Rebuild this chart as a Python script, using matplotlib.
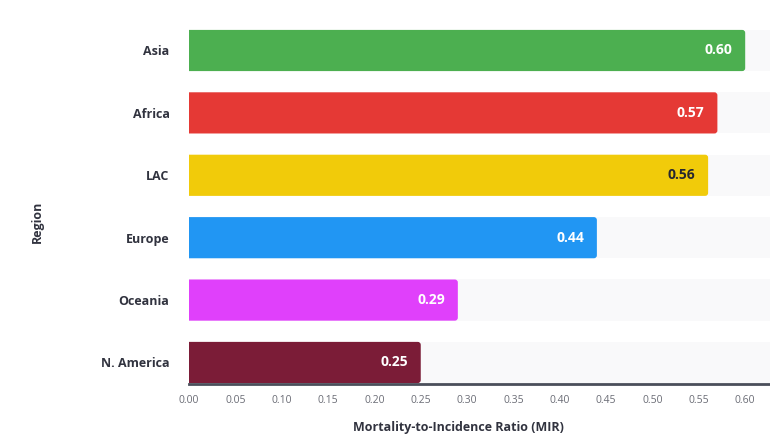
import matplotlib.pyplot as plt
from matplotlib.patches import FancyBboxPatch
import numpy as np

regions = ['Asia', 'Africa', 'LAC', 'Europe', 'Oceania', 'N. America']
mir = [0.60, 0.57, 0.56, 0.44, 0.29, 0.25]
colors = ['#4caf50', '#e53935', '#f1cb0a', '#2196f3', '#e040fb', '#7b1c37']
text_colors = ['white', 'white', '#262730', 'white', 'white', 'white']
ticks = np.arange(0, 0.601, 0.05)

plt.rcParams['font.family'] = ['Open Sans', 'DejaVu Sans']

fig = plt.figure(figsize=(7.7, 4.41), dpi=100)
ax = fig.add_axes([189 / 770, 57 / 441, 1 - 189 / 770, 364.7 / 441])

y = np.arange(len(regions))
xmax = 581 / 927
px_x = 927.0   # pixeles por unidad en x
px_y = 62.4    # pixeles por unidad en y

# fondo gris de cada barra
ax.barh(y, [xmax] * len(regions), height=0.66, color='#f9f9fa', zorder=1)
bars = ax.barh(y, mir, height=0.66, color=colors, zorder=2)

# esquinas redondeadas solo a la derecha (la izquierda queda recortada)
r = 3 / px_x
for b in bars:
    b.set_visible(False)
    p = FancyBboxPatch((b.get_x() - r, b.get_y()), b.get_width() + r, b.get_height(),
                       boxstyle=f'round,pad=0,rounding_size={r}',
                       mutation_aspect=px_x / px_y,
                       facecolor=b.get_facecolor(), edgecolor='none', zorder=2)
    ax.add_patch(p)

for b, v, tc in zip(bars, mir, text_colors):
    ax.text(v - 0.014, b.get_y() + b.get_height() / 2, f'{v:.2f}',
            ha='right', va='center', color=tc, fontsize=10,
            fontweight='bold', zorder=3)

ax.set_yticks(y)
ax.set_yticklabels(regions, fontsize=9, fontweight='bold', color='#31333f')
ax.set_xticks(ticks)
ax.set_xticklabels([f'{t:.2f}' for t in ticks], fontsize=7.5, color='#6b6d76')
ax.set_xlim(0, xmax)
ax.set_ylim(5.345, -0.5)
ax.tick_params(axis='both', length=0)
ax.tick_params(axis='y', pad=14)
ax.tick_params(axis='x', pad=8)

for s in ['top', 'right', 'left']:
    ax.spines[s].set_visible(False)
ax.spines['bottom'].set_color('#4a4e5a')
ax.spines['bottom'].set_linewidth(2)
ax.spines['bottom'].set_zorder(4)

fig.text(458 / 770, 1 - 428 / 441, 'Mortality-to-Incidence Ratio (MIR)',
         ha='center', va='center', fontsize=9, fontweight='bold', color='#31333f')
fig.text(37 / 770, 1 - 222 / 441, 'Region', rotation=90,
         ha='center', va='center', fontsize=9, fontweight='bold', color='#31333f')

fig.savefig('out.png', dpi=100)
